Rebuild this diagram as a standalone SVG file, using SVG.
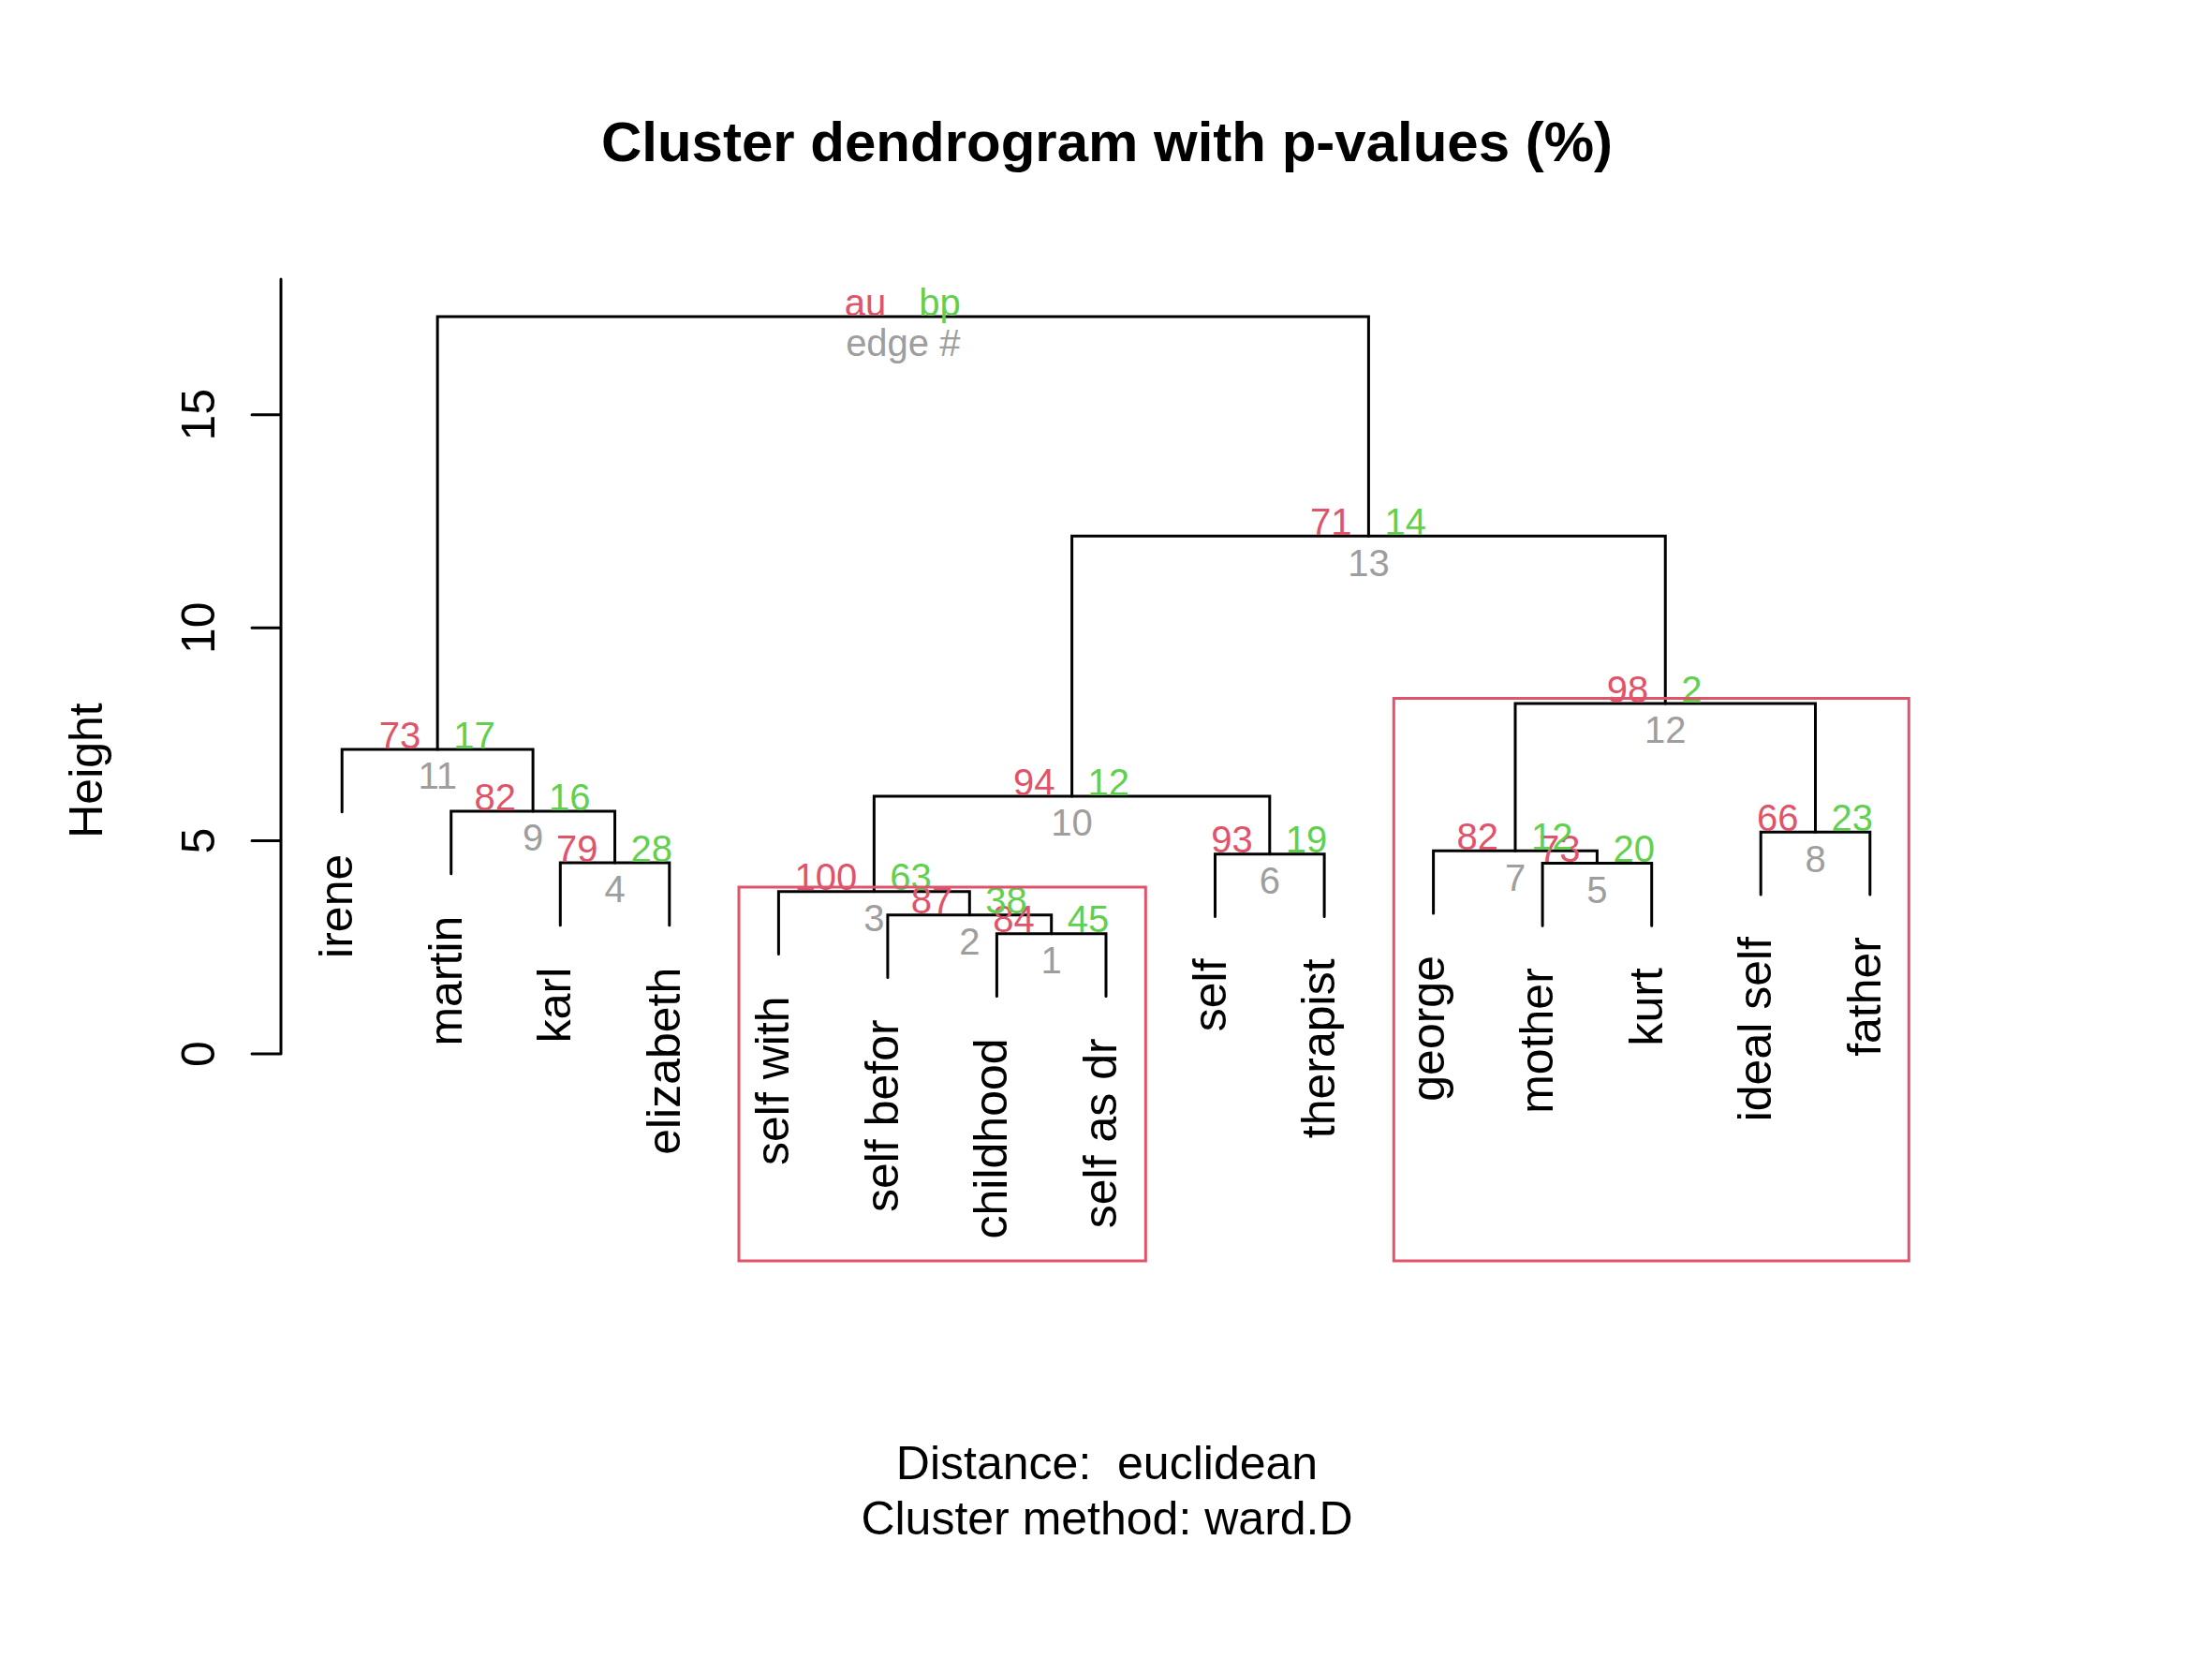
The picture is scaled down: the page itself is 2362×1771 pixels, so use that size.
<svg xmlns="http://www.w3.org/2000/svg" width="2362" height="1771" viewBox="0 0 2362 1771">
<style>
text{font-family:"Liberation Sans",Arial,Helvetica,sans-serif;}
.br{fill:none;stroke:#000;stroke-width:3;stroke-linecap:round;stroke-linejoin:miter;}
.ax{fill:none;stroke:#000;stroke-width:3;stroke-linecap:round;}
.pr{fill:none;stroke:#DF536B;stroke-width:3;}
.lab{font-size:50px;fill:#000;}
.au{font-size:40px;fill:#DF536B;text-anchor:end;}
.bp{font-size:40px;fill:#61D04F;text-anchor:start;}
.ed{font-size:40px;fill:#9E9E9E;text-anchor:middle;}
.leaf{font-size:50px;fill:#000;text-anchor:end;}
</style>
<rect width="2362" height="1771" fill="#fff"/>
<g id="title">
<text x="1182" y="172" font-size="60" font-weight="bold" text-anchor="middle">Cluster dendrogram with p-values (%)</text>
<text x="1182" y="1579" class="lab" text-anchor="middle" xml:space="preserve">Distance:  euclidean</text>
<text x="1182" y="1638" class="lab" text-anchor="middle">Cluster method: ward.D</text>
</g>
<g id="axis">
<path class="ax" d="M300,1125 V298 M269,1125 H300 M269,897.6 H300 M269,670.2 H300 M269,442.7 H300"/>
<text class="lab" text-anchor="middle" transform="translate(229,1125) rotate(-90)">0</text>
<text class="lab" text-anchor="middle" transform="translate(229,897.6) rotate(-90)">5</text>
<text class="lab" text-anchor="middle" transform="translate(229,670.2) rotate(-90)">10</text>
<text class="lab" text-anchor="middle" transform="translate(229,442.7) rotate(-90)">15</text>
<text class="lab" text-anchor="middle" transform="translate(109,822.5) rotate(-90)">Height</text>
</g>
<g id="connectors">
<path class="br" d="M1064.4,1063.4 V996.7 H1181 V1063.4"/>
<path class="br" d="M947.9,1043.4 V976.7 H1122.7 V996.7"/>
<path class="br" d="M831.4,1018.4 V951.7 H1035.3 V976.7"/>
<path class="br" d="M598.3,987.7 V921 H714.8 V987.7"/>
<path class="br" d="M1647.1,988.2 V921.5 H1763.7 V988.2"/>
<path class="br" d="M1297.5,978.4 V911.7 H1414.1 V978.4"/>
<path class="br" d="M1530.6,975 V908.3 H1705.4 V921.5"/>
<path class="br" d="M1880.2,955 V888.3 H1996.8 V955"/>
<path class="br" d="M481.7,932.7 V866 H656.55 V921"/>
<path class="br" d="M933.35,951.7 V850 H1355.8 V911.7"/>
<path class="br" d="M365.2,866.7 V800 H569.1 V866"/>
<path class="br" d="M1618,908.3 V751 H1938.5 V888.3"/>
<path class="br" d="M1144.6,850 V572.3 H1778.25 V751"/>
<path class="br" d="M467.15,800 V338 H1461.4 V572.3"/>
</g>
<g id="leaves">
<text id="leaf-irene" class="leaf" transform="translate(376.2,911.7) rotate(-90)">irene</text>
<text id="leaf-martin" class="leaf" transform="translate(492.7,977.7) rotate(-90)">martin</text>
<text id="leaf-karl" class="leaf" transform="translate(609.3,1032.7) rotate(-90)">karl</text>
<text id="leaf-elizabeth" class="leaf" transform="translate(725.8,1032.7) rotate(-90)">elizabeth</text>
<text id="leaf-self-with" class="leaf" transform="translate(842.4,1063.4) rotate(-90)">self with</text>
<text id="leaf-self-befor" class="leaf" transform="translate(958.9,1088.4) rotate(-90)">self befor</text>
<text id="leaf-childhood" class="leaf" transform="translate(1075.4,1108.4) rotate(-90)">childhood</text>
<text id="leaf-self-as-dr" class="leaf" transform="translate(1192,1108.4) rotate(-90)">self as dr</text>
<text id="leaf-self" class="leaf" transform="translate(1308.5,1023.4) rotate(-90)">self</text>
<text id="leaf-therapist" class="leaf" transform="translate(1425.1,1023.4) rotate(-90)">therapist</text>
<text id="leaf-george" class="leaf" transform="translate(1541.6,1020) rotate(-90)">george</text>
<text id="leaf-mother" class="leaf" transform="translate(1658.1,1033.2) rotate(-90)">mother</text>
<text id="leaf-kurt" class="leaf" transform="translate(1774.7,1033.2) rotate(-90)">kurt</text>
<text id="leaf-ideal-self" class="leaf" transform="translate(1891.2,1000) rotate(-90)">ideal self</text>
<text id="leaf-father" class="leaf" transform="translate(2007.8,1000) rotate(-90)">father</text>
</g>
<g id="node-1"><text class="au" x="1104.7" y="995.2">84</text><text class="bp" x="1139.7" y="995.2">45</text><text class="ed" x="1122.7" y="1039">1</text></g>
<g id="node-2"><text class="au" x="1017.3" y="975.2">87</text><text class="bp" x="1052.3" y="975.2">38</text><text class="ed" x="1035.3" y="1019">2</text></g>
<g id="node-3"><text class="au" x="915.35" y="950.2">100</text><text class="bp" x="950.35" y="950.2">63</text><text class="ed" x="933.35" y="994">3</text></g>
<g id="node-4"><text class="au" x="638.55" y="919.5">79</text><text class="bp" x="673.55" y="919.5">28</text><text class="ed" x="656.55" y="963.3">4</text></g>
<g id="node-5"><text class="au" x="1687.4" y="920">73</text><text class="bp" x="1722.4" y="920">20</text><text class="ed" x="1705.4" y="963.8">5</text></g>
<g id="node-6"><text class="au" x="1337.8" y="910.2">93</text><text class="bp" x="1372.8" y="910.2">19</text><text class="ed" x="1355.8" y="954">6</text></g>
<g id="node-7"><text class="au" x="1600" y="906.8">82</text><text class="bp" x="1635" y="906.8">12</text><text class="ed" x="1618" y="950.6">7</text></g>
<g id="node-8"><text class="au" x="1920.5" y="886.8">66</text><text class="bp" x="1955.5" y="886.8">23</text><text class="ed" x="1938.5" y="930.6">8</text></g>
<g id="node-9"><text class="au" x="551.1" y="864.5">82</text><text class="bp" x="586.1" y="864.5">16</text><text class="ed" x="569.1" y="908.3">9</text></g>
<g id="node-10"><text class="au" x="1126.6" y="848.5">94</text><text class="bp" x="1161.6" y="848.5">12</text><text class="ed" x="1144.6" y="892.3">10</text></g>
<g id="node-11"><text class="au" x="449.15" y="798.5">73</text><text class="bp" x="484.15" y="798.5">17</text><text class="ed" x="467.15" y="842.3">11</text></g>
<g id="node-12"><text class="au" x="1760.25" y="749.5">98</text><text class="bp" x="1795.25" y="749.5">2</text><text class="ed" x="1778.25" y="793.3">12</text></g>
<g id="node-13"><text class="au" x="1443.4" y="570.8">71</text><text class="bp" x="1478.4" y="570.8">14</text><text class="ed" x="1461.4" y="614.6">13</text></g>
<g id="node-root"><text class="au" x="946.3" y="336.5">au</text><text class="bp" x="981.3" y="336.5">bp</text><text class="ed" x="964.3" y="380.3">edge #</text></g>
<g id="pvrect">
<rect class="pr" x="789" y="947" width="434.3" height="399"/>
<rect class="pr" x="1488.3" y="745.5" width="550" height="600.5"/>
</g>
</svg>
